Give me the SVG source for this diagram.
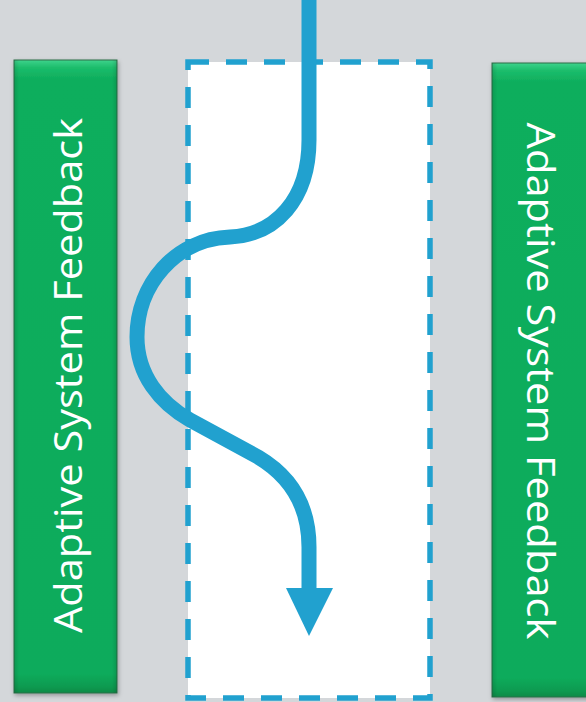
<svg xmlns="http://www.w3.org/2000/svg" width="586" height="702" viewBox="0 0 586 702">
  <defs>
    <linearGradient id="gv" x1="0" y1="0" x2="0" y2="1">
      <stop offset="0" stop-color="#3fd38c"/>
      <stop offset="0.012" stop-color="#1bbd6c"/>
      <stop offset="0.03" stop-color="#0fae5d"/>
      <stop offset="0.97" stop-color="#0fab5b"/>
      <stop offset="0.99" stop-color="#0d9a50"/>
      <stop offset="1" stop-color="#0b8a47"/>
    </linearGradient>
    <linearGradient id="gh" x1="0" y1="0" x2="1" y2="0">
      <stop offset="0" stop-color="#000" stop-opacity="0.12"/>
      <stop offset="0.05" stop-color="#000" stop-opacity="0"/>
      <stop offset="0.95" stop-color="#000" stop-opacity="0"/>
      <stop offset="1" stop-color="#000" stop-opacity="0.12"/>
    </linearGradient>
    <filter id="sh" x="-10%" y="-5%" width="120%" height="110%">
      <feDropShadow dx="1" dy="2" stdDeviation="2" flood-color="#000" flood-opacity="0.3"/>
    </filter>
  </defs>
  <style>
    .box { fill: url(#gv); stroke: #2f6e49; stroke-width: 1; }
    .shade { fill: url(#gh); }
    .lbl { font-family: "Open Sans", "Liberation Sans", sans-serif; font-weight: 400; font-size: 39px; fill: #ffffff; text-anchor: middle; }
    .zone { fill: #ffffff; stroke: #21a1cf; stroke-width: 5.5; stroke-dasharray: 21 17; }
    .flow { fill: none; stroke: #21a1cf; stroke-width: 15; }
    .head { fill: #21a1cf; }
  </style>
  <rect width="586" height="702" fill="#d4d7da"/>
  <g id="left-feedback">
    <rect class="box" x="14" y="60" width="103" height="633" filter="url(#sh)"/>
    <rect class="shade" x="14" y="60" width="103" height="633"/>
    <text class="lbl" transform="translate(82,375.5) rotate(-90)" x="0" y="0" textLength="515" lengthAdjust="spacingAndGlyphs">Adaptive System Feedback</text>
  </g>
  <g id="right-feedback">
    <rect class="box" x="492" y="63" width="110" height="634" filter="url(#sh)"/>
    <rect class="shade" x="492" y="63" width="110" height="634"/>
    <text class="lbl" transform="translate(527,381) rotate(90)" x="0" y="0" textLength="517" lengthAdjust="spacingAndGlyphs">Adaptive System Feedback</text>
  </g>
  <g id="zone">
    <rect class="zone" x="188" y="62" width="242" height="636"/>
  </g>
  <g id="connectors">
    <path class="flow" d="M309,0 V140 C309,200 275,235 230,237 C175,239 137,285 137,337 C137,375 160,403 190,420 L258,457 C290,476 309,505 309,547 V592"/>
    <polygon class="head" points="286,588 333,588 309,636"/>
  </g>
</svg>
